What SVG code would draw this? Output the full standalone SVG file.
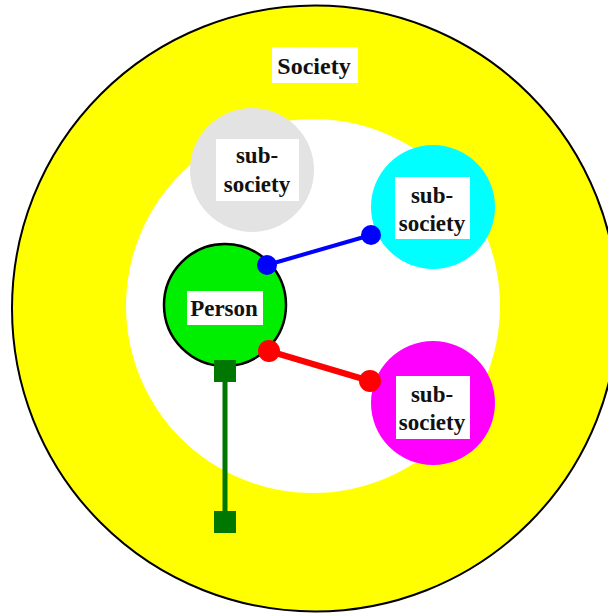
<svg xmlns="http://www.w3.org/2000/svg" width="608" height="616" viewBox="0 0 608 616">
<style>
text{font-family:"Liberation Serif","Times New Roman",serif;font-weight:bold;fill:#111;text-anchor:middle}
.lbl{fill:#fff}
.sub{font-size:23px}
</style>
<rect width="608" height="616" fill="#fff"/>
<g id="society">
<circle cx="315" cy="308.5" r="303" fill="#ffff00" stroke="#000" stroke-width="2"/>
<circle cx="313" cy="306" r="187" fill="#fff"/>
<rect class="lbl" x="272" y="47" width="86" height="36"/>
<text x="314" y="74" font-size="24">Society</text>
</g>
<g id="sub1">
<circle cx="252" cy="170" r="62" fill="#e3e3e3"/>
<rect class="lbl" x="216" y="139" width="83" height="62"/>
<text class="sub" x="257" y="163">sub-</text>
<text class="sub" x="257" y="192">society</text>
</g>
<g id="sub2">
<circle cx="433" cy="207" r="62" fill="#00ffff"/>
<rect class="lbl" x="395" y="177" width="75" height="62"/>
<text class="sub" x="432" y="203">sub-</text>
<text class="sub" x="432" y="231">society</text>
</g>
<g id="sub3">
<circle cx="433" cy="403" r="62" fill="#ff00ff"/>
<rect class="lbl" x="396" y="376" width="74" height="63"/>
<text class="sub" x="432" y="402">sub-</text>
<text class="sub" x="432" y="430">society</text>
</g>
<g id="person">
<circle cx="225" cy="305" r="61" fill="#00ee00" stroke="#000" stroke-width="2.5"/>
<rect class="lbl" x="187" y="291" width="76" height="34"/>
<text class="sub" x="224" y="316">Person</text>
</g>
<g id="connectors">
<line x1="267" y1="265" x2="371" y2="235" stroke="#0000ff" stroke-width="4"/>
<circle cx="267" cy="265" r="10" fill="#0000ff"/>
<circle cx="371" cy="235" r="10" fill="#0000ff"/>
<line x1="269" y1="351" x2="370" y2="381" stroke="#ff0000" stroke-width="6"/>
<circle cx="269" cy="351" r="11" fill="#ff0000"/>
<circle cx="370" cy="381" r="11" fill="#ff0000"/>
<line x1="225" y1="371" x2="225" y2="522" stroke="#007700" stroke-width="5"/>
<rect x="214" y="360" width="22" height="22" fill="#007700"/>
<rect x="214" y="511" width="22" height="22" fill="#007700"/>
</g>
</svg>
